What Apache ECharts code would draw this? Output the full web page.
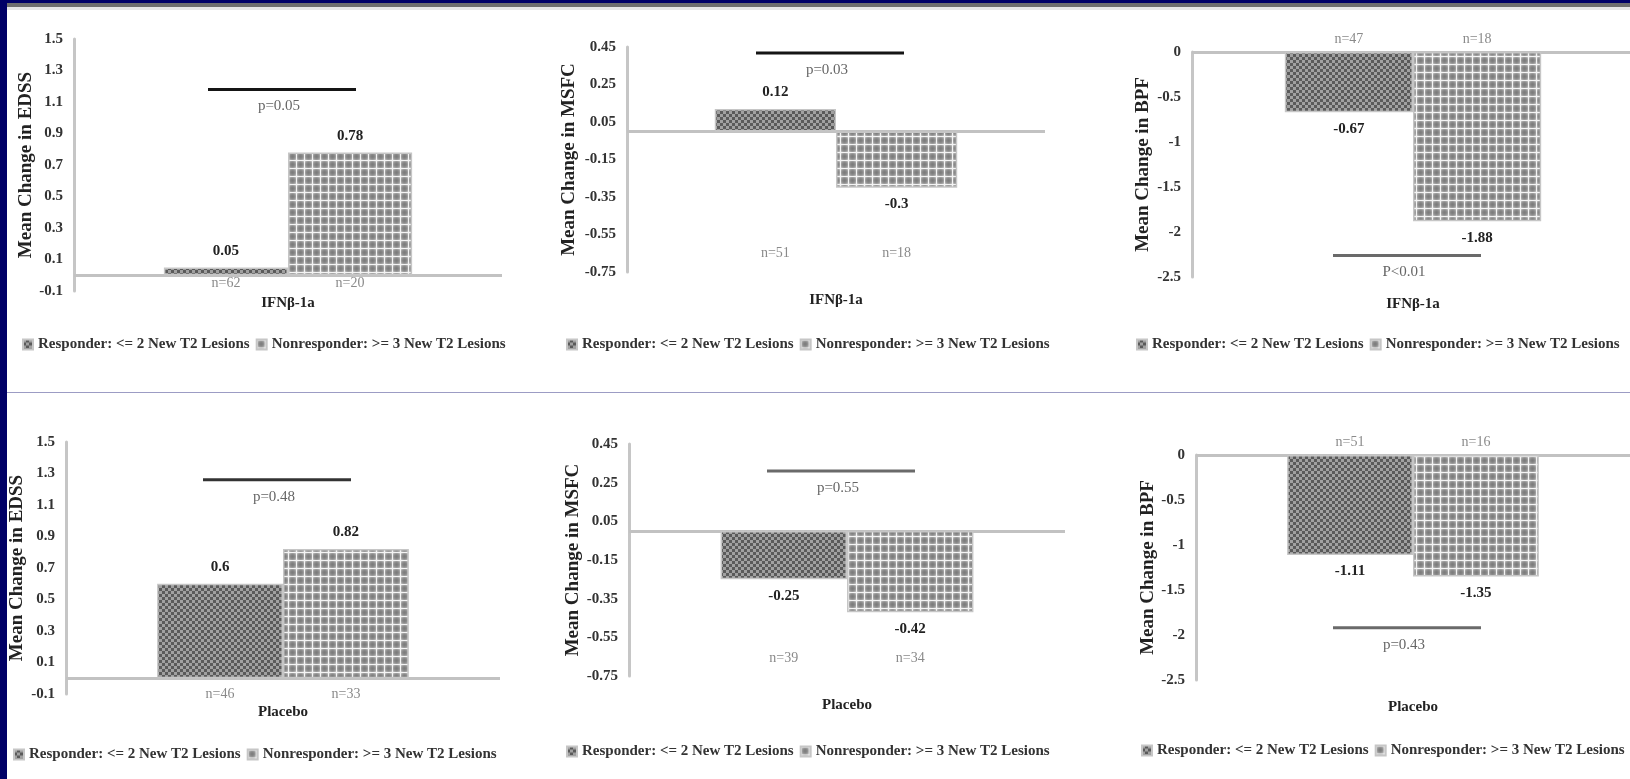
<!DOCTYPE html>
<html>
<head>
<meta charset="utf-8">
<title>Responders vs Nonresponders: EDSS, MSFC and BPF</title>
<script src="https://cdn.jsdelivr.net/npm/echarts@6/dist/echarts.min.js"></script>
<style>
  html, body { margin: 0; padding: 0; width: 1630px; height: 779px; overflow: hidden; background: #fff; }
  #chart { position: absolute; left: 0; top: 0; width: 1700px; height: 779px; }
  .band { position: absolute; z-index: 5; }
</style>
</head>
<body>
<div id="chart"></div>
<!-- slide frame -->
<div class="band" style="left:0;top:0;width:1630px;height:3px;background:#000066"></div>
<div class="band" style="left:7px;top:3px;width:1623px;height:4px;background:#6e6e6e"></div>
<div class="band" style="left:7px;top:7px;width:1623px;height:3px;background:#e6e6e6"></div>
<div class="band" style="left:0;top:0;width:7px;height:779px;background:#000066"></div>
<div class="band" style="left:7px;top:392px;width:1623px;height:1px;background:#9c9cc4"></div>
<script>
// ---- data ----
const legendNames = ['Responder: <= 2 New T2 Lesions', 'Nonresponder: >= 3 New T2 Lesions'];
const armIFN = 'IFNβ-1a';
const armPlacebo = 'Placebo';
const axisTitles = ['Mean Change in EDSS', 'Mean Change in MSFC', 'Mean Change in BPF'];

const edssIFN = [0.05, 0.78];
const msfcIFN = [0.12, -0.3];
const bpfIFN = [-0.67, -1.88];
const edssPlacebo = [0.6, 0.82];
const msfcPlacebo = [-0.25, -0.42];
const bpfPlacebo = [-1.11, -1.35];

const nEdssIFN = ['n=62', 'n=20'];
const nMsfcIFN = ['n=51', 'n=18'];
const nBpfIFN = ['n=47', 'n=18'];
const nEdssPlacebo = ['n=46', 'n=33'];
const nMsfcPlacebo = ['n=39', 'n=34'];
const nBpfPlacebo = ['n=51', 'n=16'];

const pIFN = ['p=0.05', 'p=0.03', 'P<0.01'];
const pPlacebo = ['p=0.48', 'p=0.55', 'p=0.43'];

const edssTicks = [-0.1, 0.1, 0.3, 0.5, 0.7, 0.9, 1.1, 1.3, 1.5];
const msfcTicks = [-0.75, -0.55, -0.35, -0.15, 0.05, 0.25, 0.45];
const bpfTicks = [-2.5, -2, -1.5, -1, -0.5, 0];

// ---- fill patterns ----
function makeTile(size, shade) {
  const c = document.createElement('canvas');
  c.width = size; c.height = size;
  const ctx = c.getContext('2d');
  const img = ctx.createImageData(size, size);
  for (let y = 0; y < size; y++) {
    for (let x = 0; x < size; x++) {
      const v = shade(x, y);
      const i = (y * size + x) * 4;
      img.data[i] = img.data[i + 1] = img.data[i + 2] = v;
      img.data[i + 3] = 255;
    }
  }
  ctx.putImageData(img, 0, 0);
  return c;
}
// fine checker for responders
const checkerTile = makeTile(6, (x, y) => ((Math.floor(x / 3) + Math.floor(y / 3)) % 2 ? 0x5a : 0xa0));
// plaid grid for nonresponders: white rules every 8px over grey blocks
const plaidBand = [0, 190, 150, 132, 124, 132, 150, 188];
const plaidTile = makeTile(8, (x, y) => (x === 0 || y === 0) ? 244 : Math.round((plaidBand[x] + plaidBand[y]) / 2));
const fills = [
  { image: checkerTile, repeat: 'repeat' },
  { image: plaidTile, repeat: 'repeat' }
];

// ---- panels ----
const FONT = 'Liberation Serif';
const panels = [
  { arm: armIFN, title: axisTitles[0], values: edssIFN, n: nEdssIFN, p: pIFN[0], ticks: edssTicks,
    grid: { left: 74, top: 39, width: 428, height: 252 }, nameGap: 37, xMargin: 5,
    nY: -0.05, nOff: 0, bracketY: 1.18, bracketColor: '#151515', legend: { left: 17, top: 332 } },
  { arm: armIFN, title: axisTitles[1], values: msfcIFN, n: nMsfcIFN, p: pIFN[1], ticks: msfcTicks,
    grid: { left: 627, top: 47, width: 418, height: 225 }, nameGap: 48, xMargin: 21,
    nY: -0.65, nOff: 0, bracketY: 0.418, bracketColor: '#151515', legend: { left: 561, top: 332 } },
  { arm: armIFN, title: axisTitles[2], values: bpfIFN, n: nBpfIFN, p: pIFN[2], ticks: bpfTicks,
    grid: { left: 1192, top: 52, width: 442, height: 225 }, nameGap: 39, xMargin: 20,
    nY: 0, nOff: -13, bracketY: -2.26, bracketColor: '#6a6a6a', legend: { left: 1131, top: 332 } },
  { arm: armPlacebo, title: axisTitles[0], values: edssPlacebo, n: nEdssPlacebo, p: pPlacebo[0], ticks: edssTicks,
    grid: { left: 66, top: 442, width: 434, height: 252 }, nameGap: 39, xMargin: 11,
    nY: -0.1, nOff: 0, bracketY: 1.26, bracketColor: '#333333', legend: { left: 8, top: 742 } },
  { arm: armPlacebo, title: axisTitles[1], values: msfcPlacebo, n: nMsfcPlacebo, p: pPlacebo[1], ticks: msfcTicks,
    grid: { left: 629, top: 444, width: 436, height: 232 }, nameGap: 46, xMargin: 22,
    nY: -0.66, nOff: 0, bracketY: 0.31, bracketColor: '#6a6a6a', legend: { left: 561, top: 739 } },
  { arm: armPlacebo, title: axisTitles[2], values: bpfPlacebo, n: nBpfPlacebo, p: pPlacebo[2], ticks: bpfTicks,
    grid: { left: 1196, top: 455, width: 434, height: 225 }, nameGap: 37, xMargin: 20,
    nY: 0, nOff: -13, bracketY: -1.92, bracketColor: '#6a6a6a', legend: { left: 1136, top: 738 } }
];

const grid = [], xAxis = [], yAxis = [], series = [], legend = [];
panels.forEach((pn, k) => {
  grid.push(Object.assign({ containLabel: false }, pn.grid));
  xAxis.push({
    type: 'category', gridIndex: k, data: [pn.arm],
    axisLine: { show: false }, axisTick: { show: false },
    axisLabel: { margin: pn.xMargin, color: '#222', fontFamily: FONT, fontWeight: 'bold', fontSize: 15 }
  });
  yAxis.push({
    type: 'value', gridIndex: k,
    min: pn.ticks[0], max: pn.ticks[pn.ticks.length - 1],
    name: pn.title, nameLocation: 'middle', nameGap: pn.nameGap,
    nameTextStyle: { color: '#222', fontFamily: FONT, fontWeight: 'bold', fontSize: 19 },
    axisLine: { show: true, lineStyle: { color: '#c6c6c6', width: 3 } },
    axisTick: { show: false },
    splitLine: { show: false },
    axisLabel: {
      customValues: pn.ticks, margin: 11,
      color: '#333', fontFamily: FONT, fontWeight: 'bold', fontSize: 15,
      formatter: v => String(v)
    }
  });
  pn.values.forEach((v, s) => {
    const bar = {
      type: 'bar', name: legendNames[s], xAxisIndex: k, yAxisIndex: k,
      data: [v], barGap: '0%', barCategoryGap: '42%',
      itemStyle: { color: fills[s], borderColor: '#c6c6c6', borderWidth: 1.5 },
      label: { show: true, position: 'outside', distance: 9, color: '#222',
               fontFamily: FONT, fontWeight: 'bold', fontSize: 15 },
      markPoint: {
        silent: true, symbol: 'rect', symbolSize: 1,
        itemStyle: { color: 'rgba(0,0,0,0)' },
        label: { show: true, position: 'inside', formatter: '{b}', offset: [0, pn.nOff],
                 color: '#8a8a8a', fontFamily: FONT, fontSize: 14 },
        data: [{ name: pn.n[s], coord: [0, pn.nY] }]
      }
    };
    if (s === 0) {
      // zero reference line across the plot
      bar.markLine = {
        silent: true, symbol: 'none', z: 1,
        lineStyle: { color: '#c2c2c2', width: 3, type: 'solid' },
        label: { show: false },
        data: [{ yAxis: 0 }]
      };
    }
    series.push(bar);
  });
  // significance bracket with p-value
  series.push({
    type: 'scatter', xAxisIndex: k, yAxisIndex: k, data: [], silent: true,
    markPoint: {
      silent: true, symbol: 'rect', symbolSize: [148, 3], symbolOffset: [-6, 0],
      itemStyle: { color: pn.bracketColor },
      label: { show: true, position: 'bottom', distance: 8, offset: [-3, 0], formatter: '{b}',
               color: '#666', fontFamily: FONT, fontSize: 15 },
      data: [{ name: pn.p, coord: [0, pn.bracketY] }]
    }
  });
  legend.push(Object.assign({
    orient: 'horizontal', data: legendNames, icon: 'rect', itemWidth: 10, itemHeight: 10,
    itemGap: 6, selectedMode: false,
    textStyle: { color: '#333', fontFamily: FONT, fontWeight: 'bold', fontSize: 15 }
  }, pn.legend));
});

const chart = echarts.init(document.getElementById('chart'), null, { renderer: 'canvas' });
chart.setOption({
  backgroundColor: '#ffffff',
  animation: false,
  grid, xAxis, yAxis, series, legend
});
</script>
</body>
</html>
